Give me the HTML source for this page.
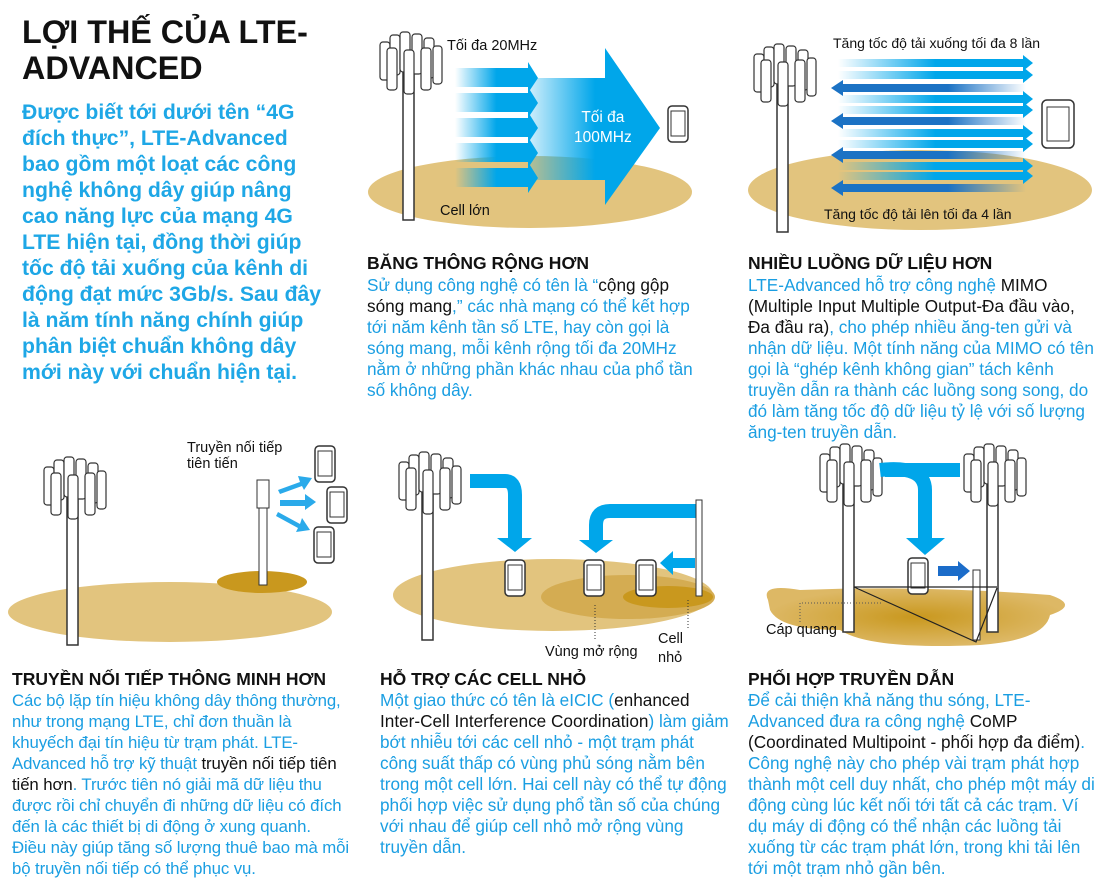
<!DOCTYPE html>
<html><head><meta charset="utf-8"><style>
body{margin:0;width:1110px;height:886px;background:#fff;position:relative;overflow:hidden;font-family:"Liberation Sans",Arial,sans-serif}
.t{position:absolute;color:#1a9ee2;font-size:17.2px;line-height:21px;white-space:nowrap}
.k{color:#111}
.h{position:absolute;font-weight:bold;font-size:17.5px;color:#111;white-space:nowrap}
.l{position:absolute;font-size:14.5px;color:#111;white-space:nowrap}
svg{position:absolute;left:0;top:0}
</style></head><body>
<svg width="1110" height="886">
<defs>
<g id="tw">
<rect x="25" y="30" width="11" height="160" fill="#fff" stroke="#333" stroke-width="1.5"/>
<rect x="2" y="12" width="10" height="38" rx="3" fill="#fff" stroke="#333" stroke-width="1.2"/>
<rect x="12" y="5" width="10" height="40" rx="3" fill="#fff" stroke="#333" stroke-width="1.2"/>
<rect x="22" y="2" width="10" height="40" rx="3" fill="#fff" stroke="#333" stroke-width="1.2"/>
<rect x="34" y="4" width="10" height="40" rx="3" fill="#fff" stroke="#333" stroke-width="1.2"/>
<rect x="46" y="8" width="10" height="40" rx="3" fill="#fff" stroke="#333" stroke-width="1.2"/>
<rect x="55" y="16" width="9" height="38" rx="3" fill="#fff" stroke="#333" stroke-width="1.2"/>
<rect x="9" y="18" width="10" height="42" rx="3" fill="#fff" stroke="#333" stroke-width="1.2"/>
<rect x="26" y="20" width="10" height="44" rx="3" fill="#fff" stroke="#333" stroke-width="1.2"/>
<rect x="43" y="18" width="10" height="42" rx="3" fill="#fff" stroke="#333" stroke-width="1.2"/>
</g>
<g id="ph"><rect x="0" y="0" width="20" height="36" rx="4" fill="#fff" stroke="#333" stroke-width="1.5"/><rect x="3" y="5" width="14" height="25" fill="#fff" stroke="#333"/></g>
<linearGradient id="fa" x1="0" x2="1"><stop offset="0" stop-color="#00a6ea" stop-opacity="0"/><stop offset="0.5" stop-color="#00a6ea"/></linearGradient>
<linearGradient id="fl" x1="0" x2="1"><stop offset="0.6" stop-color="#1b72c4"/><stop offset="1" stop-color="#1b72c4" stop-opacity="0"/></linearGradient>
<linearGradient id="fb" x1="0" x2="1"><stop offset="0" stop-color="#00a6ea" stop-opacity="0.2"/><stop offset="0.5" stop-color="#00a6ea"/></linearGradient>
<radialGradient id="gd"><stop offset="0" stop-color="#c9981e"/><stop offset="1" stop-color="#ddb865"/></radialGradient>
<g id="ar"><polygon points="0,-4 185,-4 185,-8 195,0 185,8 185,4 0,4" fill="url(#fa)"/></g>
<g id="al"><polygon points="195,-4 12,-4 12,-8 0,0 12,8 12,4 195,4" fill="url(#fl)"/></g>
</defs>
<ellipse cx="530" cy="192" rx="162" ry="36" fill="#e2c47e"/>
<polygon points="530,78 605,78 605,48 660,128 605,205 605,180 530,180" fill="url(#fb)"/>
<g fill="url(#fa)">
<polygon points="455,68 528,68 528,62 538,78 528,93 528,87 455,87"/>
<polygon points="455,93 528,93 528,87 538,103 528,118 528,112 455,112"/>
<polygon points="455,118 528,118 528,112 538,128 528,143 528,137 455,137"/>
<polygon points="455,143 528,143 528,137 538,153 528,168 528,162 455,162"/>
<polygon points="455,168 528,168 528,162 538,178 528,193 528,187 455,187"/>
</g>
<use href="#tw" x="378" y="30"/>
<use href="#ph" x="668" y="106"/>
<ellipse cx="920" cy="190" rx="172" ry="40" fill="#e2c47e"/>
<use href="#ar" x="838" y="63"/><use href="#ar" x="838" y="75"/><use href="#al" x="831" y="88"/>
<use href="#ar" x="838" y="99"/><use href="#ar" x="838" y="110"/><use href="#al" x="831" y="121"/>
<use href="#ar" x="838" y="133"/><use href="#ar" x="838" y="144"/><use href="#al" x="831" y="155"/>
<use href="#ar" x="838" y="166"/><use href="#ar" x="838" y="176"/><use href="#al" x="831" y="188"/>
<use href="#tw" x="752" y="42"/>
<rect x="1042" y="100" width="32" height="48" rx="5" fill="#fff" stroke="#333" stroke-width="1.5"/><rect x="1047" y="107" width="22" height="34" fill="#fff" stroke="#333"/>
<ellipse cx="170" cy="612" rx="162" ry="30" fill="#e2c47e"/>
<ellipse cx="262" cy="582" rx="45" ry="11" fill="#c9981e"/>
<use href="#tw" x="42" y="455"/>
<rect x="259" y="480" width="8" height="105" fill="#fff" stroke="#333"/>
<rect x="257" y="480" width="12" height="28" fill="#fff" stroke="#333"/>
<g fill="#2aaaea">
<polygon points="278,490 300,482 298,476 312,478 304,490 302,486 280,494"/>
<polygon points="280,500 305,500 305,494 316,502 305,510 305,506 280,506"/>
<polygon points="278,512 300,524 302,518 310,530 296,532 298,528 276,516"/>
</g>
<use href="#ph" x="315" y="446"/><use href="#ph" x="327" y="487"/><use href="#ph" x="314" y="527"/>
<ellipse cx="553" cy="595" rx="160" ry="36" fill="#e2c47e"/>
<ellipse cx="628" cy="597" rx="87" ry="22" fill="#d4ac52"/>
<ellipse cx="668" cy="597" rx="45" ry="11" fill="#c9981e"/>
<use href="#tw" x="397" y="450"/>
<path d="M470,481 H505 Q515,481 515,495 V540" fill="none" stroke="#00a6ea" stroke-width="14"/>
<polygon points="497,538 532,538 515,552" fill="#00a6ea"/>
<path d="M696,511 H610 Q596,511 596,525 V542" fill="none" stroke="#00a6ea" stroke-width="14"/>
<polygon points="579,540 613,540 596,553" fill="#00a6ea"/>
<polygon points="695,558 673,558 673,551 660,563 673,575 673,568 695,568" fill="#00a6ea"/>
<rect x="696" y="500" width="6" height="96" fill="#fff" stroke="#333"/>
<use href="#ph" x="505" y="560"/><use href="#ph" x="584" y="560"/><use href="#ph" x="636" y="560"/>
<line x1="595" y1="605" x2="595" y2="640" stroke="#333" stroke-dasharray="1,2"/>
<line x1="688" y1="600" x2="688" y2="630" stroke="#333" stroke-dasharray="1,2"/>
<path d="M768,600 Q760,583 800,590 Q920,585 1050,595 Q1080,605 1050,615 Q1045,640 980,645 Q870,650 840,630 Q780,630 770,610Z" fill="url(#gd)"/>
<use href="#tw" x="818" y="442"/><use href="#tw" x="962" y="442"/>
<path d="M885,470 H935 M880,470 Q925,465 925,490 V540" fill="none" stroke="#00a6ea" stroke-width="14"/>
<path d="M910,470 H960" stroke="#00a6ea" stroke-width="14"/>
<polygon points="906,538 945,538 925,555" fill="#00a6ea"/>
<use href="#ph" x="908" y="558"/>
<polygon points="938,566 958,566 958,561 970,571 958,581 958,576 938,576" fill="#1b6cc9"/>
<rect x="973" y="570" width="7" height="70" fill="#fff" stroke="#333"/>
<polyline points="854,587 976,642 997,588" fill="none" stroke="#222" stroke-width="1.2"/>
<line x1="854" y1="587" x2="997" y2="587" stroke="#222" stroke-width="1.2"/>
<polyline points="800,622 800,603 883,603" fill="none" stroke="#555" stroke-dasharray="1,2"/>
</svg>

<div class="h" style="left:22px;top:14px;font-size:32.3px;line-height:36px">LỢI THẾ CỦA LTE-<br>ADVANCED</div>
<div class="t" style="left:22px;top:100px;font-weight:bold;font-size:21.2px;line-height:26px;color:#1ea7e6">Được biết tới dưới tên “4G<br>đích thực”, LTE-Advanced<br>bao gồm một loạt các công<br>nghệ không dây giúp nâng<br>cao năng lực của mạng 4G<br>LTE hiện tại, đồng thời giúp<br>tốc độ tải xuống của kênh di<br>động đạt mức 3Gb/s. Sau đây<br>là năm tính năng chính giúp<br>phân biệt chuẩn không dây<br>mới này với chuẩn hiện tại.</div>

<div class="l" style="left:447px;top:38px">Tối đa 20MHz</div>
<div class="l" style="left:574px;top:108px;color:#fff;font-size:15.5px;text-align:center;line-height:20px">Tối đa<br>100MHz</div>
<div class="l" style="left:440px;top:203px">Cell lớn</div>
<div class="l" style="left:833px;top:35px;font-size:14px">Tăng tốc độ tải xuống tối đa 8 lần</div>
<div class="l" style="left:824px;top:206px;font-size:14px">Tăng tốc độ tải lên tối đa 4 lần</div>
<div class="l" style="left:187px;top:440px">Truyền nối tiếp<br>tiên tiến</div>
<div class="l" style="left:545px;top:644px">Vùng mở rộng</div>
<div class="l" style="left:658px;top:630px;line-height:19px">Cell<br>nhỏ</div>
<div class="l" style="left:766px;top:622px">Cáp quang</div>

<div class="h" style="left:367px;top:253px">BĂNG THÔNG RỘNG HƠN</div>
<div class="t" style="left:367px;top:275px">Sử dụng công nghệ có tên là “<span class="k">cộng gộp</span><br><span class="k">sóng mang</span>,” các nhà mạng có thể kết hợp<br>tới năm kênh tần số LTE, hay còn gọi là<br>sóng mang, mỗi kênh rộng tối đa 20MHz<br>nằm ở những phần khác nhau của phổ tần<br>số không dây.</div>

<div class="h" style="left:748px;top:253px">NHIỀU LUỒNG DỮ LIỆU HƠN</div>
<div class="t" style="left:748px;top:275px">LTE-Advanced hỗ trợ công nghệ <span class="k">MIMO</span><br><span class="k">(Multiple Input Multiple Output-Đa đầu vào,</span><br><span class="k">Đa đầu ra)</span>, cho phép nhiều ăng-ten gửi và<br>nhận dữ liệu. Một tính năng của MIMO có tên<br>gọi là “ghép kênh không gian” tách kênh<br>truyền dẫn ra thành các luồng song song, do<br>đó làm tăng tốc độ dữ liệu tỷ lệ với số lượng<br>ăng-ten truyền dẫn.</div>

<div class="h" style="left:12px;top:669px">TRUYỀN NỐI TIẾP THÔNG MINH HƠN</div>
<div class="t" style="left:12px;top:690px;font-size:16.8px;letter-spacing:-0.1px">Các bộ lặp tín hiệu không dây thông thường,<br>như trong mạng LTE, chỉ đơn thuần là<br>khuyếch đại tín hiệu từ trạm phát. LTE-<br>Advanced hỗ trợ kỹ thuật <span class="k">truyền nối tiếp tiên</span><br><span class="k">tiến hơn</span>. Trước tiên nó giải mã dữ liệu thu<br>được rồi chỉ chuyển đi những dữ liệu có đích<br>đến là các thiết bị di động ở xung quanh.<br>Điều này giúp tăng số lượng thuê bao mà mỗi<br>bộ truyền nối tiếp có thể phục vụ.</div>

<div class="h" style="left:380px;top:669px">HỖ TRỢ CÁC CELL NHỎ</div>
<div class="t" style="left:380px;top:690px">Một giao thức có tên là eICIC (<span class="k">enhanced</span><br><span class="k">Inter-Cell Interference Coordination</span>) làm giảm<br>bớt nhiễu tới các cell nhỏ - một trạm phát<br>công suất thấp có vùng phủ sóng nằm bên<br>trong một cell lớn. Hai cell này có thể tự động<br>phối hợp việc sử dụng phổ tần số của chúng<br>với nhau để giúp cell nhỏ mở rộng vùng<br>truyền dẫn.</div>

<div class="h" style="left:748px;top:669px">PHỐI HỢP TRUYỀN DẪN</div>
<div class="t" style="left:748px;top:690px">Để cải thiện khả năng thu sóng, LTE-<br>Advanced đưa ra công nghệ <span class="k">CoMP</span><br><span class="k">(Coordinated Multipoint - phối hợp đa điểm)</span>.<br>Công nghệ này cho phép vài trạm phát hợp<br>thành một cell duy nhất, cho phép một máy di<br>động cùng lúc kết nối tới tất cả các trạm. Ví<br>dụ máy di động có thể nhận các luồng tải<br>xuống từ các trạm phát lớn, trong khi tải lên<br>tới một trạm nhỏ gần bên.</div>
</body></html>
